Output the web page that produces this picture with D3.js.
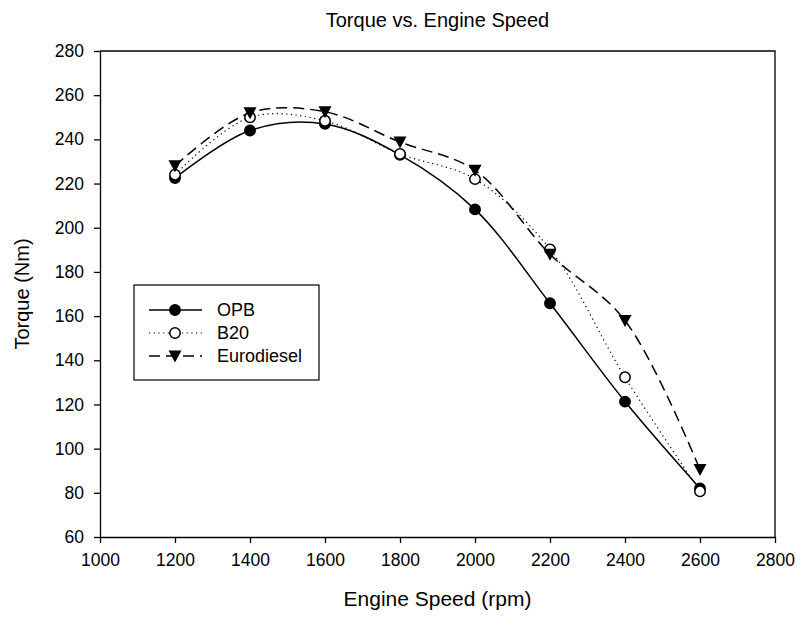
<!DOCTYPE html>
<html>
<head>
<meta charset="utf-8">
<script src="https://cdn.jsdelivr.net/npm/d3@7"></script>
<style>
	body { margin: 0; background: #fff; }
	svg { font-family: Arial, "Liberation Sans", sans-serif; }
	.axis path, .axis line { stroke: #000; stroke-width: 1.3; }
	.axis text { font-size: 17.5px; fill: #000; }
</style>
</head>
<body>
<div id="chart"></div>
<script>
// dati
const speeds = [1200, 1400, 1600, 1800, 2000, 2200, 2400, 2600];
const opb = [222.5, 244, 247, 233, 208.3, 165.8, 121.3, 82];
const b20 = [224, 250, 248.4, 233.4, 222, 190.2, 132.3, 80.7];
const eurodiesel = [228, 252, 252.5, 238.8, 226, 188, 158, 90.5];
const seriesNames = ["OPB", "B20", "Eurodiesel"];
const xTicks = [1000, 1200, 1400, 1600, 1800, 2000, 2200, 2400, 2600, 2800];
const yTicks = [60, 80, 100, 120, 140, 160, 180, 200, 220, 240, 260, 280];

const W = 797, H = 620;
const margin = { top: 51, right: 22, bottom: 83, left: 100 },
	width = W - margin.left - margin.right,
	height = H - margin.top - margin.bottom;

const svg = d3.select("#chart").append("svg")
	.attr("width", W)
	.attr("height", H);

const g = svg.append("g")
	.attr("transform", "translate(" + margin.left + "," + margin.top + ")");

const x = d3.scaleLinear().domain([1000, 2800]).range([0, width]);
const y = d3.scaleLinear().domain([60, 280]).range([height, 0]);

// assi con tick verso l'esterno
g.append("g")
	.attr("class", "axis")
	.attr("transform", "translate(0," + height + ")")
	.call(d3.axisBottom(x).tickValues(xTicks).tickSize(6).tickSizeOuter(0).tickPadding(11).tickFormat(d3.format("d")));

g.append("g")
	.attr("class", "axis")
	.call(d3.axisLeft(y).tickValues(yTicks).tickSize(6).tickSizeOuter(0).tickPadding(10).tickFormat(d3.format("d")));

// lati superiore e destro del riquadro
g.append("path")
	.attr("d", "M0,0H" + width + "V" + height)
	.attr("fill", "none")
	.attr("stroke", "#000")
	.attr("stroke-width", 1.3);

// titoli
svg.append("text")
	.attr("x", margin.left + width / 2)
	.attr("y", 27)
	.attr("text-anchor", "middle")
	.style("font-size", "20px")
	.text("Torque vs. Engine Speed");

svg.append("text")
	.attr("x", margin.left + width / 2)
	.attr("y", 606)
	.attr("text-anchor", "middle")
	.style("font-size", "21px")
	.text("Engine Speed (rpm)");

svg.append("text")
	.attr("transform", "translate(29," + (margin.top + height / 2) + ") rotate(-90)")
	.attr("text-anchor", "middle")
	.style("font-size", "20px")
	.text("Torque (Nm)");

// stile di ogni serie: linea e marker
const styles = [
	{ dash: null, width: 1.5, marker: "dot" },
	{ dash: "1.2,3.5", width: 1.2, marker: "open" },
	{ dash: "11,6", width: 1.5, marker: "tri" }
];
const allValues = [opb, b20, eurodiesel];

function drawMarker(sel, type) {
	if (type === "tri") {
		sel.append("path")
			.attr("d", "M-6.5,-5.5L6.5,-5.5L0,6.5Z")
			.attr("fill", "#000");
	} else {
		sel.append("circle")
			.attr("r", 5.2)
			.attr("fill", type === "open" ? "#fff" : "#000")
			.attr("stroke", "#000")
			.attr("stroke-width", 1.5);
	}
}

const line = d3.line()
	.x(d => x(d[0]))
	.y(d => y(d[1]))
	.curve(d3.curveCatmullRom.alpha(0.5));

allValues.forEach((vals, i) => {
	const pts = speeds.map((s, j) => [s, vals[j]]);
	g.append("path")
		.datum(pts)
		.attr("d", line)
		.attr("fill", "none")
		.attr("stroke", "#000")
		.attr("stroke-width", styles[i].width)
		.attr("stroke-dasharray", styles[i].dash);
});

// marker sopra le linee: OPB, poi B20, poi Eurodiesel
allValues.forEach((vals, i) => {
	const pts = speeds.map((s, j) => [s, vals[j]]);
	g.selectAll(".m" + i)
		.data(pts)
		.enter().append("g")
		.attr("transform", d => "translate(" + x(d[0]) + "," + y(d[1]) + ")")
		.each(function () { drawMarker(d3.select(this), styles[i].marker); });
});

// legenda
const legend = svg.append("g").attr("transform", "translate(134,285)");
legend.append("rect")
	.attr("width", 185)
	.attr("height", 95)
	.attr("fill", "#fff")
	.attr("stroke", "#000")
	.attr("stroke-width", 1.2);

seriesNames.forEach((name, i) => {
	const row = legend.append("g").attr("transform", "translate(0," + (25 + i * 23) + ")");
	row.append("line")
		.attr("x1", 15).attr("x2", 68)
		.attr("stroke", "#000")
		.attr("stroke-width", styles[i].width)
		.attr("stroke-dasharray", styles[i].dash);
	const m = row.append("g").attr("transform", "translate(41,0)");
	drawMarker(m, styles[i].marker);
	row.append("text")
		.attr("x", 83)
		.attr("dy", "0.36em")
		.style("font-size", "18px")
		.text(name);
});
</script>
</body>
</html>
